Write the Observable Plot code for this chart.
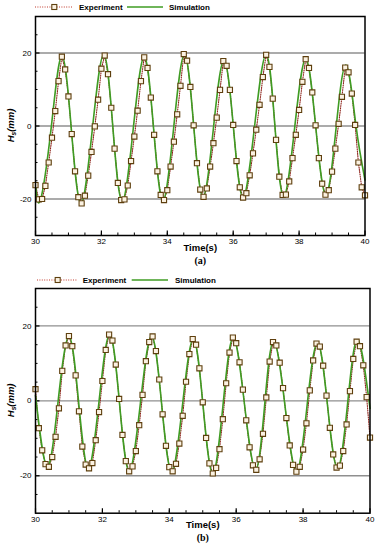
<!DOCTYPE html>
<html><head><meta charset="utf-8">
<script src="https://cdn.jsdelivr.net/npm/d3@7"></script>
<script src="https://cdn.jsdelivr.net/npm/@observablehq/plot@0.6"></script>
<style>
body{margin:0;background:#fff;}
#wrap{position:relative;width:380px;height:550px;background:#fff;}
#pa,#pb{position:absolute;left:0;}
#pa{top:0}
#pb{top:270px}
</style></head><body><div id="wrap"><div id="pa"></div><div id="pb"></div></div>
<script>
// ---- data ----
const expTime = [
30.0,30.1,30.2,30.3,30.4,30.5,30.6,30.7,30.8,30.9,
31.0,31.1,31.2,31.3,31.4,31.5,31.6,31.7,31.8,31.9,
32.0,32.1,32.2,32.3,32.4,32.5,32.6,32.7,32.8,32.9,
33.0,33.1,33.2,33.3,33.4,33.5,33.6,33.7,33.8,33.9,
34.0,34.1,34.2,34.3,34.4,34.5,34.6,34.7,34.8,34.9,
35.0,35.1,35.2,35.3,35.4,35.5,35.6,35.7,35.8,35.9,
36.0,36.1,36.2,36.3,36.4,36.5,36.6,36.7,36.8,36.9,
37.0,37.1,37.2,37.3,37.4,37.5,37.6,37.7,37.8,37.9,
38.0,38.1,38.2,38.3,38.4,38.5,38.6,38.7,38.8,38.9,
39.0,39.1,39.2,39.3,39.4,39.5,39.6,39.7,39.8,39.9,
40.0];
const expA = [
-16.2,-20.1,-20.0,-16.4,-10.0,-3.2,4.1,12.3,19.0,15.5,
8.1,-2.2,-12.4,-19.5,-21.2,-19.1,-13.6,-7.1,-0.1,7.2,
15.7,19.3,14.2,5.0,-6.2,-15.6,-20.3,-20.1,-16.3,-9.6,
-2.9,4.2,12.3,18.8,15.9,7.8,-2.4,-12.4,-18.9,-20.3,
-17.6,-11.1,-4.3,3.2,11.0,19.7,17.9,10.7,0.2,-10.2,
-17.4,-19.4,-17.1,-11.1,-4.7,2.3,9.9,17.8,16.5,9.9,
0.3,-9.6,-16.8,-19.6,-18.4,-13.5,-7.5,-1.0,5.8,13.4,
19.5,16.2,7.5,-3.8,-13.9,-18.9,-18.8,-15.2,-8.8,-2.4,
4.4,12.1,18.3,15.9,9.2,0.2,-8.8,-15.8,-18.8,-17.6,
-12.5,-6.2,0.6,8.0,16.0,14.7,8.9,0.3,-10.0,-16.8,
-19.0];
const expB = [
3.1,-7.3,-13.2,-16.9,-17.6,-15.0,-9.6,-2.0,8.0,14.8,
17.3,14.6,6.8,-2.8,-12.2,-17.0,-18.0,-16.6,-10.5,-3.0,
5.3,13.6,17.7,16.1,9.7,0.5,-9.1,-16.1,-18.8,-17.5,
-13.4,-6.5,1.6,10.6,15.7,17.2,13.3,5.7,-3.6,-12.0,
-17.7,-18.8,-16.8,-11.4,-4.0,5.1,12.5,16.5,15.0,8.7,
-0.4,-9.9,-16.7,-19.4,-17.9,-12.9,-4.9,4.7,12.9,16.9,
15.4,10.3,3.0,-5.2,-12.4,-17.2,-18.4,-15.6,-8.8,0.9,
10.5,15.7,14.8,10.2,3.4,-4.6,-11.9,-17.1,-18.9,-17.6,
-13.0,-6.0,2.8,10.8,15.3,14.5,9.4,1.4,-7.2,-14.3,
-17.8,-17.3,-13.4,-6.3,2.6,11.2,15.8,14.6,9.5,1.0,
-9.8];
const simTimeA = [30.0,30.15,30.475,30.8,31.09,31.38,31.725,32.07,32.35,32.63,32.965,33.3,33.585,33.87,34.195,34.52,34.8,35.08,35.4,35.72,36.01,36.3,36.65,37.0,37.265,37.53,37.865,38.2,38.505,38.81,39.115,39.42,39.72,40.0];
const simValA  = [-16.0,-20.3,-0.6,19.2,-1.1,-21.2,-0.9,19.6,-0.6,-20.6,-0.9,19.0,-0.8,-20.4,-0.3,19.6,0.2,-19.4,-0.6,18.0,-0.7,-19.6,0.0,19.6,0.1,-19.3,-0.5,18.4,-0.2,-18.8,-1.2,16.7,0.5,-14.8];
const simTimeB = [30.0,30.35,30.675,31.0,31.29,31.58,31.9,32.22,32.51,32.8,33.135,33.47,33.77,34.07,34.395,34.72,35.01,35.3,35.605,35.91,36.245,36.58,36.85,37.12,37.46,37.8,38.115,38.43,38.73,39.03,39.33,39.63,40.0];
const simValB  = [1.5,-17.5,-0.2,17.2,-0.4,-18.0,-0.1,17.8,-0.5,-18.8,-0.7,17.3,-0.8,-18.9,-1.1,16.6,-1.4,-19.4,-1.2,16.9,-0.7,-18.4,-1.2,16.0,-1.4,-18.9,-1.6,15.6,-1.2,-18.0,-0.8,16.3,-2.0];

const xTicks = [30,32,34,36,38,40];
const xMinorTicks = [30.5,31,31.5,32,32.5,33,33.5,34,34.5,35,35.5,36,36.5,37,37.5,38,38.5,39,39.5];
const yTicks = [-20,0,20];
const yMinorTicks = [-25,-15,-10,-5,5,10,15,25];
const seriesNames = ["Experiment","Simulation"];
const xTitle = "Time(s)";
const yTitleMain = "H", yTitleSub = "s", yTitleUnit = "(mm)";
const panelLabels = ["(a)","(b)"];

// ---- styles ----
const C_EXP_LINE = "#8e241c", C_EXP_MK = "#5e3f0e", C_EXP_FILL = "#fbf2e2", C_SIM = "#3f9c23";

function panel(el, expVals, simT, simV, label, cfg) {
  const expData = expTime.map((t,i)=>({t, v: expVals[i]}));
  const simData = simT.map((t,i)=>({t, v: simV[i]}));
  const ih = cfg.height - cfg.mt - cfg.mb, iw = 380 - cfg.ml - cfg.mr;
  const chart = Plot.plot({
    width: 380, height: cfg.height,
    marginTop: cfg.mt, marginBottom: cfg.mb, marginLeft: cfg.ml, marginRight: cfg.mr,
    x: {domain: [30,40]}, y: {domain: [-30,30]},
    style: {fontFamily: "'Liberation Sans', Arial, sans-serif", fontSize: "8px", color: "black", background: "white"},
    marks: [
      Plot.ruleY(yTicks, {stroke: "#8f8f8f", strokeWidth: 1.3}),
      Plot.tickX(xMinorTicks, {x: d=>d, insetTop: ih-2.5, stroke: "black", strokeWidth: 1}),
      Plot.tickX(xTicks, {x: d=>d, insetTop: ih-4.5, stroke: "black", strokeWidth: 1.2}),
      Plot.tickY(yMinorTicks, {y: d=>d, insetRight: iw-2.5, stroke: "black", strokeWidth: 1}),
      Plot.tickY(yTicks, {y: d=>d, insetRight: iw-4.5, stroke: "black", strokeWidth: 1.2}),
      Plot.axisX(xTicks, {tickSize: 0, tickPadding: 3, fontSize: 8, label: null}),
      Plot.axisY(yTicks, {tickSize: 0, tickPadding: 4, fontSize: 8, label: null, tickFormat: d=>String(d)}),
      Plot.line(expData, {x: "t", y: "v", stroke: C_EXP_LINE, strokeWidth: 1.1, strokeDasharray: "1,1.3"}),
      Plot.line(simData, {x: "t", y: "v", curve: "natural", stroke: C_SIM, strokeWidth: 1.6}),
      Plot.dot(expData, {x: "t", y: "v", symbol: "square", r: 2.9, stroke: C_EXP_MK, fill: C_EXP_FILL, strokeWidth: 1.1}),
      Plot.frame({stroke: "black", strokeWidth: 1.5}),
      Plot.text([xTitle], {frameAnchor: "bottom", dy: cfg.titleDy, fontWeight: "bold", fontSize: 9.5}),
      Plot.text([label], {frameAnchor: "bottom", dy: 28, fontFamily: "'Liberation Serif', 'Times New Roman', serif", fontWeight: "bold", fontSize: 10})
    ]
  });
  const svg = d3.select(chart);
  // legend
  const L = cfg.legend, ly = cfg.legendY;
  const g = svg.append("g").attr("font-size", 8).attr("font-weight", "bold").attr("text-anchor", "start");
  g.append("line").attr("x1", L.e0).attr("x2", L.e1).attr("y1", ly).attr("y2", ly)
    .attr("stroke", "#c0392b").attr("stroke-width", 1).attr("stroke-dasharray", "1,1.4");
  g.append("rect").attr("x", L.em - 2.5).attr("y", ly - 2.5).attr("width", 5).attr("height", 5)
    .attr("stroke", C_EXP_MK).attr("fill", C_EXP_FILL).attr("stroke-width", 1.1);
  g.append("text").attr("x", L.et).attr("y", ly).attr("dy", "0.35em").attr("text-anchor", "start").text(seriesNames[0]);
  g.append("line").attr("x1", L.s0).attr("x2", L.s1).attr("y1", ly).attr("y2", ly)
    .attr("stroke", C_SIM).attr("stroke-width", 1.5);
  g.append("text").attr("x", L.st).attr("y", ly).attr("dy", "0.35em").attr("text-anchor", "start").text(seriesNames[1]);
  // y title with subscript
  const yt = svg.append("text")
    .attr("transform", `translate(11,${cfg.mt + ih/2}) rotate(-90)`)
    .attr("text-anchor", "middle").attr("dy", "0.35em")
    .attr("font-size", 9.5).attr("font-weight", "bold").attr("font-style", "italic");
  yt.append("tspan").text(yTitleMain);
  yt.append("tspan").attr("font-size", 6.5).attr("dy", 2).text(yTitleSub);
  yt.append("tspan").attr("dy", -2).text(yTitleUnit);
  document.getElementById(el).appendChild(chart);
}

panel("pa", expA, simTimeA, simValA, panelLabels[0], {
  height: 270, mt: 16, mb: 35, ml: 35, mr: 15.5, titleDy: 15,
  legendY: 7, legend: {e0: 35, e1: 72, em: 54.3, et: 79, s0: 127, s1: 163, st: 169}
});
panel("pb", expB, simTimeB, simValB, panelLabels[1], {
  height: 280, mt: 18, mb: 37.3, ml: 35, mr: 10.5, titleDy: 14.3,
  legendY: 10, legend: {e0: 37, e1: 77, em: 57.7, et: 82.7, s0: 131.7, s1: 168, st: 175}
});
</script></body></html>
